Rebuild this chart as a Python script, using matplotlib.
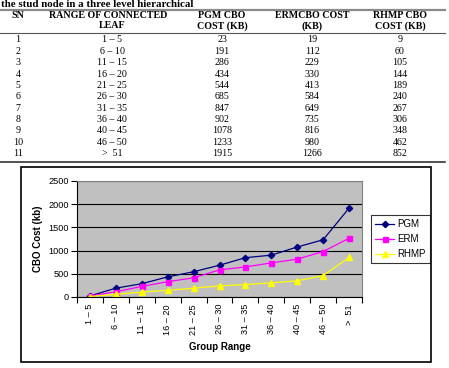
import matplotlib
matplotlib.use("Agg")
import matplotlib.pyplot as plt
from matplotlib.lines import Line2D
from matplotlib.patches import Rectangle

# table / chart data
sn = [1, 2, 3, 4, 5, 6, 7, 8, 9, 10, 11]
ranges = ["1 – 5", "6 – 10", "11 – 15", "16 – 20", "21 – 25", "26 – 30",
          "31 – 35", "36 – 40", "40 – 45", "46 – 50", ">  51"]
pgm = [23, 191, 286, 434, 544, 685, 847, 902, 1078, 1233, 1915]
erm = [19, 112, 229, 330, 413, 584, 649, 735, 816, 980, 1266]
rhmp = [9, 60, 105, 144, 189, 240, 267, 306, 348, 462, 852]

W, H = 449, 368
fig = plt.figure(figsize=(W / 100, H / 100), dpi=100)


def fx(x):
    return x / W


def fy(y):
    return 1 - y / H


serif = "Liberation Serif"
sans = "Liberation Sans"

# caption line (cut at top of page)
fig.text(fx(1), fy(7), "the stud node in a three level hierarchical",
         family=serif, weight="bold", fontsize=7.8, va="baseline", ha="left")

# table rules
def hline(y, lw, color):
    fig.add_artist(Line2D([fx(0), fx(445)], [fy(y), fy(y)], lw=lw, color=color,
                          transform=fig.transFigure))

hline(10, 1.6, "#8a8a8a")
hline(33, 0.8, "#555555")
hline(162, 1.1, "#222222")

# header
col_x = [18, 108, 222, 312, 400]
head1 = ["SN", "RANGE OF CONNECTED", "PGM CBO", "ERMCBO COST", "RHMP CBO"]
head2 = ["", "LEAF", "COST (KB)", "(KB)", "COST (KB)"]
for x, t1, t2 in zip(col_x, head1, head2):
    fig.text(fx(x), fy(15), t1, family=serif, weight="bold", fontsize=7.2,
             ha="center", va="center")
    if t2:
        fig.text(fx(x + (4 if t2 == "LEAF" else 0)), fy(26), t2, family=serif,
                 weight="bold", fontsize=7.2, ha="center", va="center")

# rows
for i in range(len(sn)):
    y = 40 + i * 11.35
    vals = [str(sn[i]), ranges[i], str(pgm[i]), str(erm[i]), str(rhmp[i])]
    for j, (x, v) in enumerate(zip(col_x, vals)):
        if j == 1:
            x = 112
        fig.text(fx(x), fy(y), v, family=serif, fontsize=7.2,
                 ha="center", va="center")

# chart frame
fig.add_artist(Rectangle((fx(21), fy(362)), fx(431) - fx(21), fy(167) - fy(362),
                         fill=False, lw=1.2, edgecolor="black",
                         transform=fig.transFigure))

ax = fig.add_axes([fx(77), fy(297), fx(362) - fx(77), fy(181) - fy(297)])
ax.set_facecolor("#c0c0c0")
xs = list(range(len(ranges)))

ax.plot(xs, pgm, color="#000080", lw=0.9, marker="D", ms=3.2, label="PGM")
ax.plot(xs, erm, color="#ff00ff", lw=0.9, marker="s", ms=3.6, label="ERM")
ax.plot(xs, rhmp, color="#ffff00", lw=0.9, marker="^", ms=4, label="RHMP")

ax.set_xlim(-0.5, len(ranges) - 0.5)
ax.set_ylim(0, 2500)
ax.set_yticks([0, 500, 1000, 1500, 2000, 2500])
ax.yaxis.grid(True, color="black", lw=0.8)
ax.set_axisbelow(True)

ax.set_xticks([k - 0.5 for k in range(len(ranges) + 1)])
ax.set_xticklabels([])
ax.set_xticks(xs, minor=True)
ax.set_xticklabels(ranges, minor=True, rotation=90, family=sans, fontsize=6.6)
ax.tick_params(axis="x", which="minor", length=0, pad=5)
ax.tick_params(axis="x", which="major", length=4, width=0.8, direction="out")
ax.tick_params(axis="y", length=4, width=0.8, direction="out", pad=2)
for lab in ax.get_yticklabels():
    lab.set_family(sans)
    lab.set_fontsize(6.6)

for s in ["top", "right"]:
    ax.spines[s].set_color("#808080")
    ax.spines[s].set_linewidth(0.8)
for s in ["left", "bottom"]:
    ax.spines[s].set_color("black")
    ax.spines[s].set_linewidth(0.8)

ax.set_xlabel("Group Range", family=sans, weight="bold", fontsize=7)
ax.xaxis.set_label_coords(0.5, (297 - 342) / 116)
ax.set_ylabel("CBO Cost (kb)", family=sans, weight="bold", fontsize=7)
ax.yaxis.set_label_coords((43 - 77) / 285, 0.5)

leg = fig.legend(loc="upper left", bbox_to_anchor=(fx(371), fy(215)),
                 prop={"family": sans, "size": 7}, frameon=True, fancybox=False,
                 borderpad=0.45, labelspacing=0.5, handlelength=1.9,
                 handletextpad=0.35, borderaxespad=0)
leg.get_frame().set_edgecolor("black")
leg.get_frame().set_linewidth(0.8)

fig.savefig("out.png", dpi=100)
